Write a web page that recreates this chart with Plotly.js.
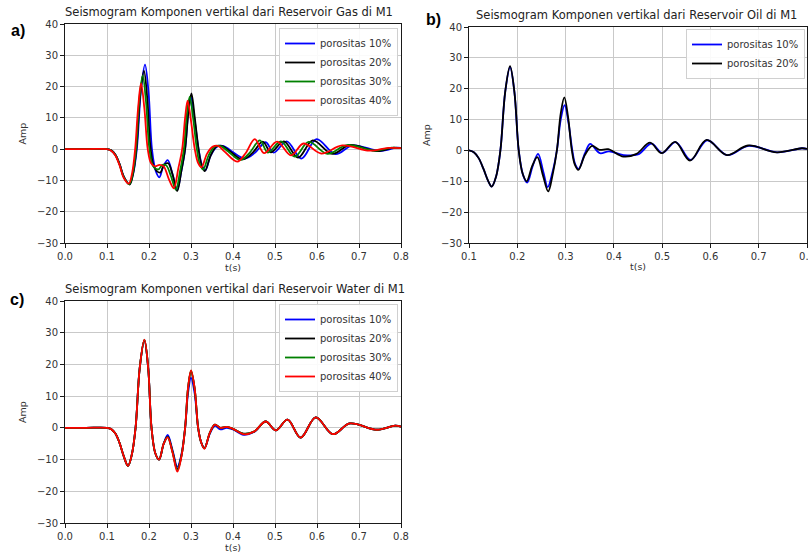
<!DOCTYPE html>
<html>
<head>
<meta charset="utf-8">
<script src="https://cdn.plot.ly/plotly-3.0.1.min.js"></script>
<style>
  html, body { margin: 0; padding: 0; background: #ffffff; }
  #chart { width: 808px; height: 555px; }
</style>
</head>
<body>
<div id="chart"></div>
<script>
// Vertical-component seismograms at receiver M1 for three reservoir fluids.
const porosityLabels = ['porositas 10%', 'porositas 20%', 'porositas 30%', 'porositas 40%'];
const lineColors = ['#0000ff', '#000000', '#008000', '#ff0000'];

// ---- a) Gas reservoir ----
const gasT10 = [0, 0.05, 0.1, 0.11, 0.12, 0.13, 0.14, 0.153, 0.162, 0.171, 0.181, 0.1905, 0.199, 0.207, 0.216, 0.2245, 0.234, 0.2445, 0.256, 0.267, 0.277, 0.286, 0.293, 0.300, 0.308, 0.318, 0.326, 0.334, 0.347, 0.362, 0.378, 0.395, 0.428, 0.452, 0.478, 0.497, 0.528, 0.563, 0.599, 0.644, 0.685, 0.75, 0.79, 0.8];
const gasA10 = [0, 0, 0, -0.4, -1.8, -4.8, -8.8, -11.2, -8, 0, 19, 27, 18, 0, -7, -9, -5.5, -3.5, -8, -13, -7, 0, 11, 16.5, 10, 0, -5, -6.8, -2, 0.8, 1, -0.5, -3, -1.2, 2.2, -1.1, 2.5, -3, 3.2, -1.6, 1.2, -0.6, 0.5, 0.4];

const gasT20 = [0, 0.05, 0.1, 0.11, 0.12, 0.13, 0.14, 0.154, 0.162, 0.17, 0.179, 0.188, 0.196, 0.204, 0.213, 0.2265, 0.236, 0.2455, 0.256, 0.267, 0.277, 0.286, 0.294, 0.301, 0.309, 0.318, 0.325, 0.333, 0.347, 0.36, 0.375, 0.392, 0.423, 0.447, 0.471, 0.49, 0.521, 0.555, 0.59, 0.636, 0.678, 0.743, 0.783, 0.8];
const gasA20 = [0, 0, 0, -0.4, -1.8, -4.8, -8.8, -11.3, -8, 0, 17, 25, 16, 0, -6, -7.5, -5, -4.5, -8, -13.4, -7, 0, 12, 17.8, 10, 0, -5, -7, -2, 0.8, 1, -0.6, -3.3, -1.1, 2.4, -1, 2.5, -2.7, 2.8, -1.5, 1.3, -0.6, 0.5, 0.3];

const gasT30 = [0, 0.05, 0.1, 0.11, 0.12, 0.13, 0.14, 0.153, 0.161, 0.169, 0.177, 0.185, 0.193, 0.201, 0.21, 0.222, 0.232, 0.241, 0.252, 0.264, 0.274, 0.283, 0.29, 0.297, 0.305, 0.314, 0.321, 0.329, 0.342, 0.356, 0.371, 0.388, 0.418, 0.44, 0.464, 0.483, 0.514, 0.547, 0.58, 0.625, 0.671, 0.738, 0.778, 0.8];
const gasA30 = [0, 0, 0, -0.45, -1.9, -5, -9, -11.2, -8, 0, 16, 23.5, 15, 0, -5.5, -6.5, -5, -5.2, -8.5, -13, -7, 0, 11, 16.8, 10, 0, -4.8, -6.5, -2, 0.8, 1, -0.7, -3.5, -1.1, 2.8, -1.1, 2.5, -2.4, 2.3, -1.5, 1.3, -0.5, 0.5, 0.3];

const gasT40 = [0, 0.05, 0.1, 0.11, 0.12, 0.13, 0.14, 0.152, 0.16, 0.167, 0.174, 0.181, 0.189, 0.197, 0.205, 0.215, 0.225, 0.235, 0.247, 0.259, 0.27, 0.279, 0.286, 0.292, 0.30, 0.309, 0.317, 0.325, 0.338, 0.352, 0.365, 0.38, 0.41, 0.43, 0.452, 0.474, 0.505, 0.538, 0.568, 0.61, 0.66, 0.725, 0.77, 0.8];
const gasA40 = [0, 0, 0, -0.5, -2, -5.2, -9.2, -11, -7.5, 0, 13, 21, 13, 0, -4.5, -5.5, -5, -5.5, -9.5, -12.5, -6, 0, 10, 15.5, 9, 0, -4.5, -5.8, -1.5, 0.8, 1, -0.8, -4, -1.3, 3.2, -1.3, 2.4, -2, 1.8, -1.4, 1.2, -0.5, 0.4, 0.3];

// ---- b) Oil reservoir ----
const oilT10 = [0.1, 0.11, 0.12, 0.13, 0.14, 0.147, 0.156, 0.165, 0.175, 0.185, 0.194, 0.203, 0.212, 0.2205, 0.232, 0.243, 0.254, 0.263, 0.273, 0.282, 0.29, 0.298, 0.306, 0.314, 0.32, 0.327, 0.34, 0.351, 0.371, 0.39, 0.42, 0.45, 0.478, 0.5, 0.528, 0.559, 0.593, 0.635, 0.679, 0.738, 0.79, 0.8];
const oilA10 = [0, -0.6, -2.5, -6, -10, -11.7, -8.5, 0, 19, 27, 19, 0, -8, -10.4, -5, -1.1, -7, -11.9, -7, 0, 10, 14.7, 9, 0, -4.5, -6, -1, 2.1, -0.9, -0.3, -1.5, -1.3, 2.2, -0.8, 2.7, -3.1, 3.3, -1.5, 1.5, -0.6, 0.7, 0.5];

const oilT20 = [0.1, 0.11, 0.12, 0.13, 0.14, 0.147, 0.156, 0.165, 0.175, 0.185, 0.194, 0.203, 0.211, 0.2195, 0.231, 0.2415, 0.253, 0.264, 0.273, 0.282, 0.29, 0.2974, 0.305, 0.313, 0.319, 0.3264, 0.34, 0.355, 0.37, 0.3885, 0.42, 0.447, 0.475, 0.499, 0.527, 0.5577, 0.592, 0.634, 0.678, 0.737, 0.789, 0.8];
const oilA20 = [0, -0.6, -2.5, -6, -10, -11.7, -8.5, 0, 19, 27.3, 19, 0, -7.5, -10, -5, -2.2, -8, -13.3, -8, 0, 12, 17.2, 11, 0, -4.5, -6.3, -1.5, 1.5, 0.2, 0.4, -2, -1.1, 2.5, -0.9, 2.8, -3.3, 3.4, -1.5, 1.6, -0.6, 0.7, 0.5];

// ---- c) Water reservoir ----
const waterT = [0, 0.05, 0.1, 0.11, 0.12, 0.13, 0.14, 0.15, 0.159, 0.168, 0.178, 0.189, 0.198, 0.206, 0.215, 0.224, 0.235, 0.2445, 0.256, 0.2675, 0.277, 0.286, 0.293, 0.300, 0.3085, 0.317, 0.324, 0.332, 0.345, 0.357, 0.37, 0.385, 0.40, 0.425, 0.45, 0.478, 0.502, 0.53, 0.561, 0.597, 0.638, 0.678, 0.743, 0.786, 0.8];
const waterA10 = [0, 0, 0, -0.4, -1.8, -4.8, -9, -12, -8.5, 0, 19, 27.5, 19, 0, -8, -10, -5, -2.2, -7, -12.3, -8.5, 0, 11, 15.8, 11, 0, -4.5, -6.4, -1.8, 0.6, -0.5, 0, -0.5, -2.2, -1.3, 2, -0.8, 2.6, -3.1, 3.3, -2, 1.4, -0.6, 0.7, 0.4];
const waterA20 = [0, 0, 0, -0.4, -1.8, -4.8, -9, -12, -8.5, 0, 19, 27.7, 19, 0, -8, -10, -5, -2.8, -7.5, -13, -9, 0, 12.5, 17.8, 12.5, 0, -4.5, -6.4, -1.5, 1, 0, 0.3, -0.3, -1.8, -1.2, 2, -0.8, 2.6, -3.1, 3.3, -2, 1.4, -0.6, 0.7, 0.4];
const waterA30 = [0, 0, 0, -0.4, -1.8, -4.8, -9, -12, -8.5, 0, 19, 27.7, 19, 0, -8, -10, -5, -2.9, -7.6, -13.3, -9, 0, 12.6, 18, 12.6, 0, -4.5, -6.5, -1.5, 1, 0, 0.3, -0.3, -1.9, -1.2, 2, -0.8, 2.6, -3.1, 3.3, -2, 1.4, -0.6, 0.7, 0.4];
const waterA40 = [0, 0, 0, -0.4, -1.8, -4.8, -9, -12, -8.5, 0, 19, 27.8, 19, 0, -8, -10, -5, -3, -7.8, -13.8, -9.2, 0, 12.7, 18.1, 12.7, 0, -4.5, -6.6, -1.5, 1, 0, 0.3, -0.3, -2, -1.2, 2, -0.8, 2.6, -3.1, 3.3, -2, 1.4, -0.6, 0.7, 0.4];

const gasSeries = [[gasT10, gasA10], [gasT20, gasA20], [gasT30, gasA30], [gasT40, gasA40]];
const oilSeries = [[oilT10, oilA10], [oilT20, oilA20]];
const waterSeries = [[waterT, waterA10], [waterT, waterA20], [waterT, waterA30], [waterT, waterA40]];

const FONT = 'DejaVu Sans, sans-serif';
const traces = [];
function addPanel(series, axSuffix, legendId) {
  series.forEach(function (s, i) {
    traces.push({
      type: 'scatter', mode: 'lines',
      x: s[0], y: s[1],
      name: porosityLabels[i],
      line: { color: lineColors[i], width: 1.8, shape: 'spline', smoothing: 1 },
      xaxis: 'x' + axSuffix, yaxis: 'y' + axSuffix,
      legend: legendId
    });
  });
}
addPanel(gasSeries, '', 'legend');
addPanel(oilSeries, '2', 'legend2');
addPanel(waterSeries, '3', 'legend3');

const W = 808, H = 555;
const px = v => v / W;
const py = v => 1 - v / H;

function xAxis(domain, range, anchor) {
  return {
    domain: domain, range: range, anchor: anchor,
    dtick: 0.1, tick0: 0, tickformat: '.1f',
    ticklabeloverflow: 'allow',
    showgrid: true, gridcolor: '#c9c9c9', gridwidth: 1,
    zeroline: false,
    showline: true, mirror: true, linecolor: '#1a1a1a', linewidth: 1,
    ticks: 'outside', ticklen: 4, tickcolor: '#1a1a1a',
    tickfont: { family: FONT, size: 10, color: '#333' },
    title: { text: 't(s)', font: { family: FONT, size: 9.5, color: '#333' }, standoff: 2 }
  };
}
function yAxis(domain, anchor) {
  return {
    domain: domain, range: [-30, 40], anchor: anchor,
    dtick: 10, tick0: 0,
    showgrid: true, gridcolor: '#c9c9c9', gridwidth: 1,
    zeroline: false,
    showline: true, mirror: true, linecolor: '#1a1a1a', linewidth: 1,
    ticks: 'outside', ticklen: 4, tickcolor: '#1a1a1a',
    tickfont: { family: FONT, size: 10, color: '#333' },
    title: { text: 'Amp', font: { family: FONT, size: 9.5, color: '#333' }, standoff: 8 }
  };
}
function legendBox(x, y) {
  return {
    x: x, y: y, xanchor: 'right', yanchor: 'top',
    bgcolor: 'rgba(255,255,255,0.9)', bordercolor: '#d0d0d0', borderwidth: 1,
    font: { family: FONT, size: 10, color: '#333' },
    itemwidth: 30, tracegroupgap: 0
  };
}
function panelTitle(text, cx, topPx) {
  return {
    text: text, xref: 'paper', yref: 'paper', x: px(cx), y: py(topPx),
    xanchor: 'center', yanchor: 'bottom', showarrow: false,
    font: { family: FONT, size: 11.5, color: '#222' }
  };
}
function panelLetter(text, xPx, yPx) {
  return {
    text: '<b>' + text + '</b>', xref: 'paper', yref: 'paper', x: px(xPx), y: py(yPx),
    xanchor: 'left', yanchor: 'middle', showarrow: false,
    font: { family: 'Liberation Sans, Arial, sans-serif', size: 16, color: '#000' }
  };
}

const layout = {
  width: W, height: H,
  margin: { l: 0, r: 0, t: 0, b: 0 },
  paper_bgcolor: '#ffffff', plot_bgcolor: '#ffffff',
  showlegend: true,
  xaxis: xAxis([px(65), px(401)], [0, 0.8], 'y'),
  yaxis: yAxis([py(243), py(24)], 'x'),
  xaxis2: xAxis([px(469), px(807)], [0.1, 0.8], 'y2'),
  yaxis2: yAxis([py(243), py(27)], 'x2'),
  xaxis3: xAxis([px(65), px(401)], [0, 0.8], 'y3'),
  yaxis3: yAxis([py(523), py(301)], 'x3'),
  legend: legendBox(px(398), py(28)),
  legend2: legendBox(px(805), py(29)),
  legend3: legendBox(px(398), py(304)),
  annotations: [
    panelTitle('Seismogram Komponen vertikal dari Reservoir Gas di M1', 229, 21),
    panelTitle('Seismogram Komponen vertikal dari Reservoir Oil di M1', 636, 24),
    panelTitle('Seismogram Komponen vertikal dari Reservoir Water di M1', 235, 298),
    panelLetter('a)', 9, 31),
    panelLetter('b)', 424, 20),
    panelLetter('c)', 8, 299)
  ]
};

Plotly.newPlot('chart', traces, layout, { displayModeBar: false, staticPlot: true });
</script>
</body>
</html>
